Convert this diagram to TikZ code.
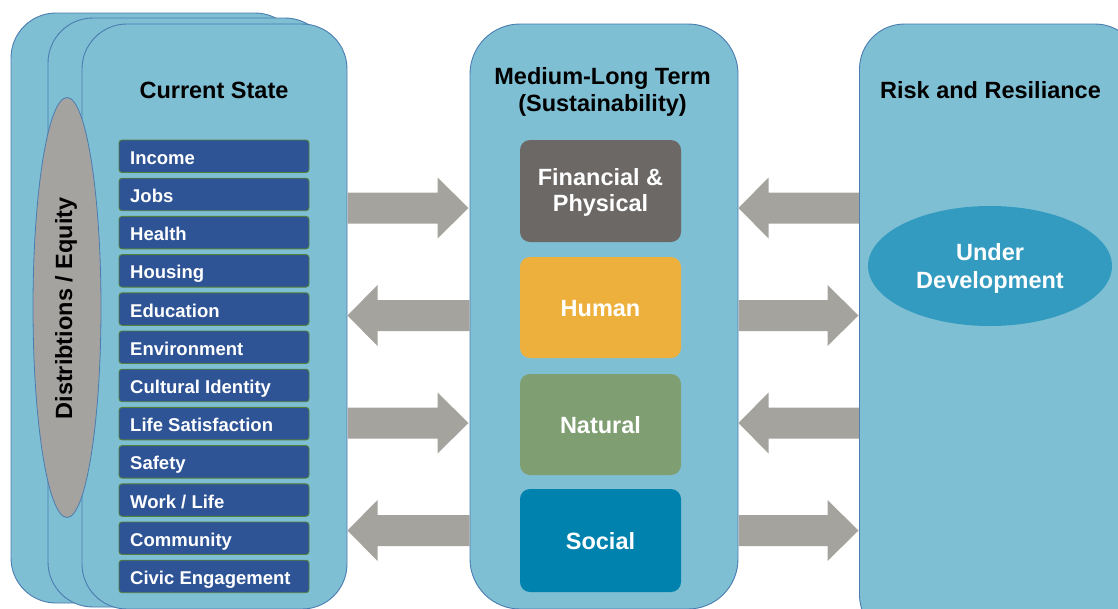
\documentclass[tikz,border=0pt]{standalone}
\usepackage{fontspec}
\setmainfont{Liberation Sans}
\usetikzlibrary{shapes.geometric}
\definecolor{panel}{RGB}{127,191,212}
\definecolor{panelline}{RGB}{74,124,176}
\definecolor{listblue}{RGB}{46,84,150}
\definecolor{listline}{RGB}{84,128,62}
\definecolor{arrowgray}{RGB}{165,163,158}
\definecolor{ellgray}{RGB}{165,163,160}
\definecolor{finc}{RGB}{107,104,102}
\definecolor{humc}{RGB}{238,176,60}
\definecolor{natc}{RGB}{127,158,113}
\definecolor{socc}{RGB}{0,130,174}
\definecolor{devc}{RGB}{51,155,191}
\tikzset{
  panelbox/.style={draw=panelline,fill=panel,line width=0.9pt,rounded corners=45pt},
  itembox/.style={draw=listline,fill=listblue,line width=0.9pt,rounded corners=3pt},
  itemtext/.style={anchor=base west,inner sep=0pt,text=white,font=\fontsize{18.5}{22}\selectfont\bfseries},
  titletext/.style={anchor=base,inner sep=0pt,text=black,font=\fontsize{23.5}{27}\selectfont\bfseries},
  capbox/.style={rounded corners=10pt,draw=none},
  captext/.style={text=white,font=\fontsize{23.5}{26}\selectfont\bfseries,align=center,inner sep=0pt},
  bigarrow/.style={fill=arrowgray,draw=none}
}
\newcommand{\rarrowat}[3]{% x1 x2 y : pointing right
  \fill[arrowgray] (#1,#3-15.5) -- (#2-31,#3-15.5) -- (#2-31,#3-30.5) -- (#2,#3) -- (#2-31,#3+30.5) -- (#2-31,#3+15.5) -- (#1,#3+15.5) -- cycle;}
\newcommand{\larrowat}[3]{% x1 x2 y : pointing left (tip at x1)
  \fill[arrowgray] (#2,#3-15.5) -- (#1+30,#3-15.5) -- (#1+30,#3-30.5) -- (#1,#3) -- (#1+30,#3+30.5) -- (#1+30,#3+15.5) -- (#2,#3+15.5) -- cycle;}
\begin{document}
\begin{tikzpicture}[x=1pt,y=-1pt]
\useasboundingbox (0,0) rectangle (1118,608);
\clip (0,0) rectangle (1118,608);
% left stack
\draw[panelbox] (11,13) rectangle (300,603);
\draw[panelbox] (48,18) rectangle (330,607);
\draw[panelbox] (82,24) rectangle (347,609);
\node[ellipse,draw=panelline,fill=ellgray,line width=0.8pt,minimum width=68pt,minimum height=420pt,inner sep=0pt] (eq) at (67,307.5) {};
\node[rotate=90,inner sep=0pt,font=\fontsize{23.5}{27}\selectfont\bfseries,anchor=base] (eqt) at (72,308.5) {Distribtions / Equity};
\node[titletext] (cs) at (214,98) {Current State};
% list
\foreach \t [count=\i from 0] in {Income,Jobs,Health,Housing,Education,Environment,Cultural Identity,Life Satisfaction,Safety,Work / Life,Community,Civic Engagement}{
  \pgfmathsetmacro{\yt}{140+38.2*\i}
  \draw[itembox] (119,\yt) rectangle (309,\yt+32.5);
  \node[itemtext] (item\i) at (130,\yt+24.2) {\t};
}
% centre panel
\draw[panelbox,rounded corners=50pt] (470,24) rectangle (738,609);
\node[titletext] (mlt) at (602.5,84) {Medium-Long Term};
\node[titletext] (sus) at (602.5,111) {(Sustainability)};
\fill[capbox,finc] (520,140) rectangle (681,242);
\node[captext] (fin) at (600.5,192) {Financial \&\\Physical};
\fill[capbox,humc] (520,257) rectangle (681,358);
\node[captext] (hum) at (600.5,308.5) {Human};
\fill[capbox,natc] (520,374) rectangle (681,475);
\node[captext] (nat) at (600.5,425.5) {Natural};
\fill[capbox,socc] (520,489) rectangle (681,592);
\node[captext] (soc) at (600.5,541.5) {Social};
% right panel
\draw[panelbox] (859.5,24) rectangle (1140,640);
\node[titletext] (rr) at (990.5,98) {Risk and Resiliance};
\node[ellipse,fill=devc,minimum width=244pt,minimum height=120pt,inner sep=0pt] (dev) at (990,266) {};
\node[captext,font=\fontsize{23.5}{28}\selectfont\bfseries] at (990,268) {Under\\Development};
% arrows left gap
\rarrowat{347.5}{468.5}{208}
\larrowat{347.5}{469.5}{315.5}
\rarrowat{347.5}{468.5}{423}
\larrowat{347.5}{469.5}{530.5}
% arrows right gap
\larrowat{738.5}{859}{208}
\rarrowat{738.5}{858.5}{315.5}
\larrowat{738.5}{859}{423}
\rarrowat{738.5}{858.5}{530.5}
\end{tikzpicture}
\end{document}
